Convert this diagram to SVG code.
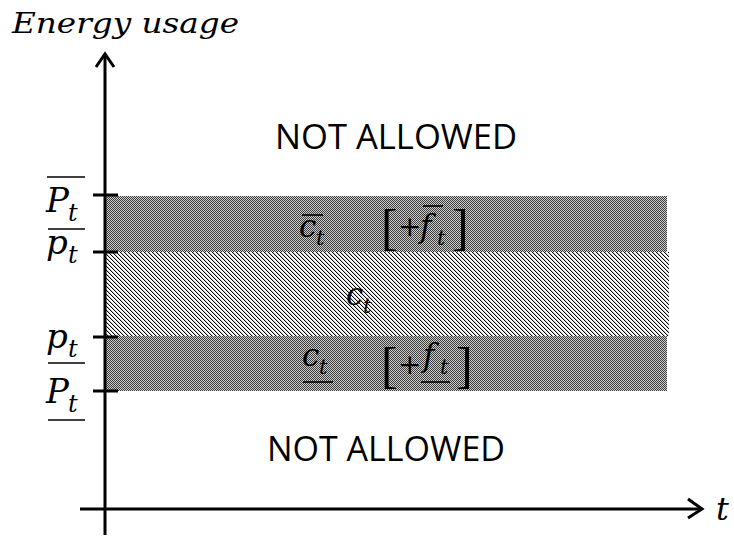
<svg xmlns="http://www.w3.org/2000/svg" width="734" height="537" viewBox="0 0 734 537">
  <style>
    .math { font-family: "DejaVu Serif", "Liberation Serif", serif; font-style: italic; fill: #000; }
    .big { font-size: 34px; }
    .sub { font-size: 24px; }
    .mid { font-size: 31px; }
    .subs { font-size: 21px; }
    .brk { font-family: "Liberation Serif", serif; font-size: 50px; fill: #000; }
    .plus { font-family: "DejaVu Serif", serif; font-size: 28px; fill: #000; }
    .zone { font-family: "Open Sans", "Liberation Sans", sans-serif; font-size: 34px; fill: #000; }
    .axis { stroke: #000; stroke-width: 3; fill: none; }
    .bar { stroke: #000; stroke-width: 1.6; }
    .px { fill: #000; shape-rendering: crispEdges; }
    .edge { fill: #c8c8c8; shape-rendering: crispEdges; }
  </style>
  <defs>
    <pattern id="dots" width="2" height="2" patternUnits="userSpaceOnUse">
      <rect width="2" height="2" fill="#cfcfcf"/>
      <rect width="1" height="1" fill="#3a3a3a"/>
      <rect x="1" y="1" width="1" height="1" fill="#3a3a3a"/>
    </pattern>
    <!-- one-pixel diagonal hatch, falling to the right -->
    <pattern id="hatch" width="4" height="4" patternUnits="userSpaceOnUse">
      <rect width="4" height="4" fill="#fff" shape-rendering="crispEdges"/>
      <rect class="px" x="0" y="0" width="1" height="1"/>
      <rect class="px" x="1" y="1" width="1" height="1"/>
      <rect class="px" x="2" y="2" width="1" height="1"/>
      <rect class="px" x="3" y="3" width="1" height="1"/>
      <rect class="edge" x="1" y="0" width="1" height="1"/>
      <rect class="edge" x="2" y="1" width="1" height="1"/>
      <rect class="edge" x="3" y="2" width="1" height="1"/>
      <rect class="edge" x="0" y="3" width="1" height="1"/>
    </pattern>
  </defs>

  <!-- title of the vertical axis -->
  <text class="math" x="12" y="33" font-size="28" textLength="227" lengthAdjust="spacingAndGlyphs">Energy usage</text>

  <!-- bands -->
  <g id="bands">
    <rect id="band-upper" x="106" y="196" width="561" height="56" fill="url(#dots)"/>
    <rect id="band-middle" x="106" y="252" width="563" height="84" fill="url(#hatch)"/>
    <rect id="band-lower" x="106" y="336" width="561" height="55" fill="url(#dots)"/>
  </g>

  <!-- axes and ticks -->
  <g id="connectors">
    <line class="axis" x1="105" y1="55" x2="105" y2="535"/>
    <polyline class="axis" points="96,67 105,54 114,67"/>
    <line class="axis" x1="80" y1="509" x2="702" y2="509"/>
    <polyline class="axis" points="688,499 702,509 688,518"/>
    <line class="axis" x1="93" y1="195" x2="118" y2="195"/>
    <line class="axis" x1="93" y1="252" x2="118" y2="252"/>
    <line class="axis" x1="93" y1="337" x2="118" y2="337"/>
    <line class="axis" x1="93" y1="391" x2="118" y2="391"/>
  </g>

  <!-- axis level labels -->
  <g id="label-P-upper">
    <line class="bar" x1="47" y1="177" x2="85" y2="177"/>
    <text class="math big" x="46" y="212">P</text>
    <text class="math sub" x="68" y="221">t</text>
  </g>
  <g id="label-p-upper">
    <line class="bar" x1="48" y1="229" x2="85" y2="229"/>
    <text class="math big" x="46" y="254">p</text>
    <text class="math sub" x="68" y="263">t</text>
  </g>
  <g id="label-p-lower">
    <text class="math big" x="46" y="348">p</text>
    <text class="math sub" x="68" y="357">t</text>
    <line class="bar" x1="48" y1="363" x2="85" y2="363"/>
  </g>
  <g id="label-P-lower">
    <text class="math big" x="46" y="403">P</text>
    <text class="math sub" x="68" y="412">t</text>
    <line class="bar" x1="48" y1="420" x2="85" y2="420"/>
  </g>

  <!-- band contents -->
  <g id="upper-band-label">
    <line class="bar" x1="302" y1="215" x2="323" y2="215"/>
    <text class="math mid" x="299" y="237">c</text>
    <text class="math subs" x="316" y="245">t</text>
    <text class="brk" x="381" y="244">[</text>
    <text class="plus" x="398" y="236">+</text>
    <line class="bar" x1="423" y1="206" x2="443" y2="206"/>
    <text class="math mid" x="420" y="237">f</text>
    <text class="math subs" x="437" y="245">t</text>
    <text class="brk" x="452" y="244">]</text>
  </g>
  <g id="middle-band-label">
    <text class="math mid" x="346" y="305">c</text>
    <text class="math subs" x="363" y="313">t</text>
  </g>
  <g id="lower-band-label">
    <text class="math mid" x="302" y="366">c</text>
    <text class="math subs" x="319" y="374">t</text>
    <line class="bar" x1="303" y1="382" x2="333" y2="382"/>
    <text class="brk" x="381" y="382">[</text>
    <text class="plus" x="398" y="374">+</text>
    <text class="math mid" x="423" y="366">f</text>
    <text class="math subs" x="440" y="374">t</text>
    <line class="bar" x1="421" y1="382" x2="450" y2="382"/>
    <text class="brk" x="456" y="382">]</text>
  </g>

  <!-- forbidden regions -->
  <g id="zone-top">
    <text class="zone" x="275" y="149" textLength="242" lengthAdjust="spacingAndGlyphs">NOT ALLOWED</text>
  </g>
  <g id="zone-bottom">
    <text class="zone" x="267" y="461" textLength="238" lengthAdjust="spacingAndGlyphs">NOT ALLOWED</text>
  </g>

  <!-- time axis label -->
  <text class="math" x="716" y="520" font-size="32">t</text>
</svg>
